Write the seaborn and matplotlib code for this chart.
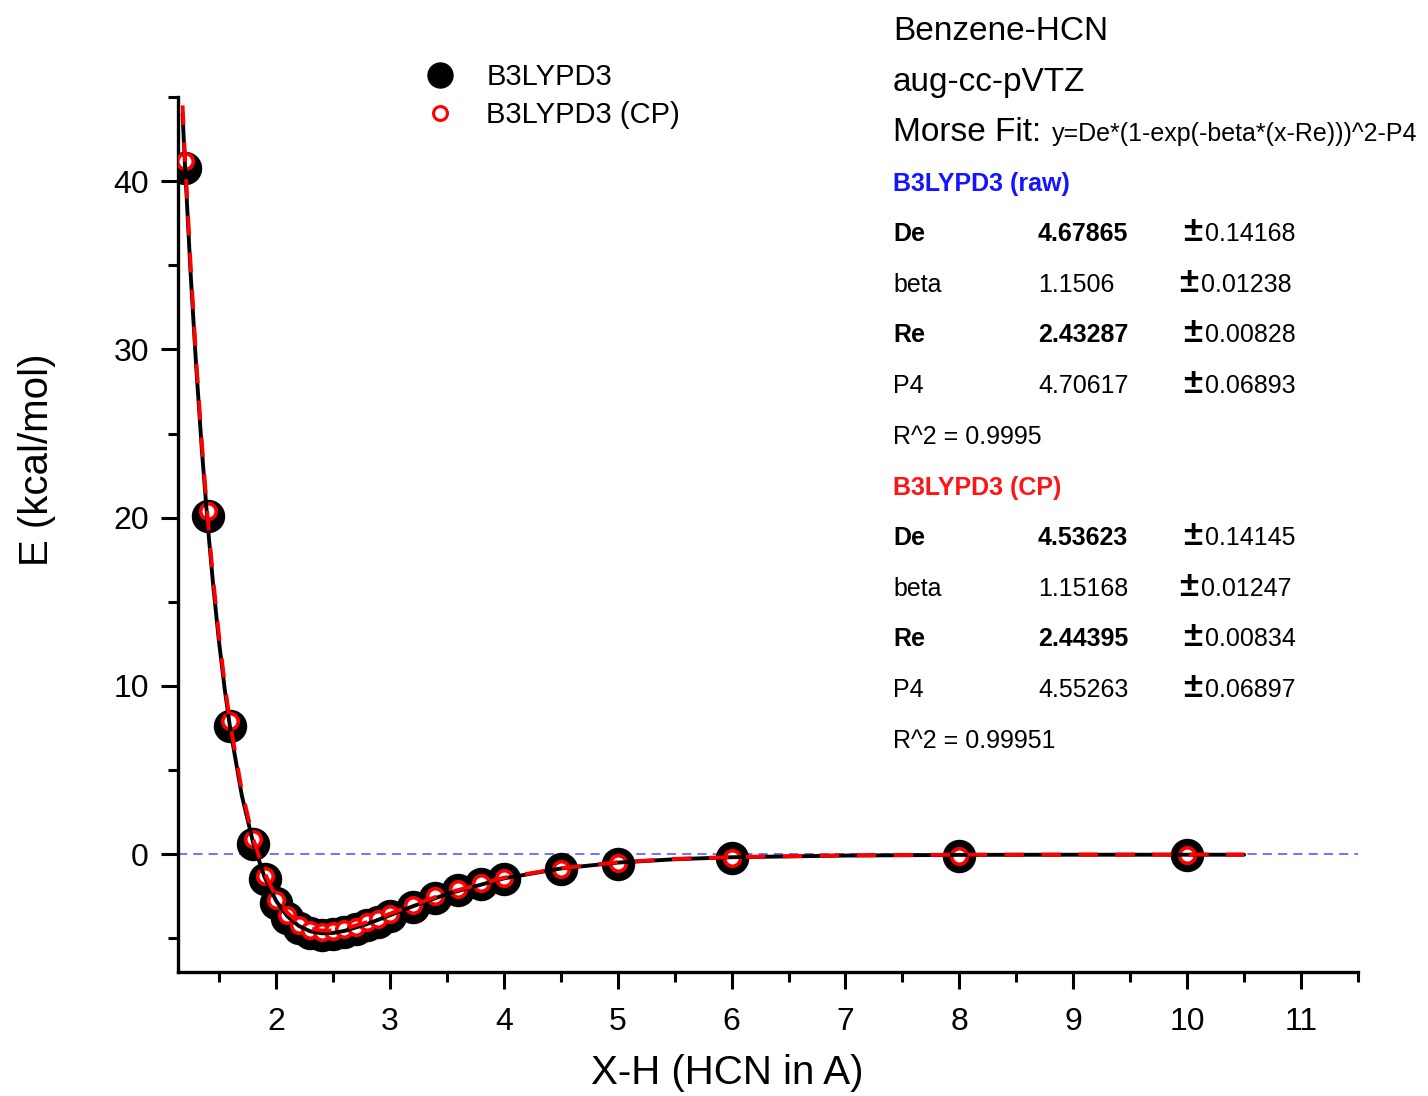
import matplotlib
matplotlib.use("Agg")
import matplotlib.pyplot as plt
import seaborn as sns
import numpy as np
import pandas as pd
from matplotlib.ticker import MultipleLocator
from matplotlib.lines import Line2D

# ---------------- data ----------------
x_pts = [1.2, 1.4, 1.6, 1.8, 1.9, 2.0, 2.1, 2.2, 2.3, 2.4, 2.5, 2.6, 2.7, 2.8, 2.9,
         3.0, 3.2, 3.4, 3.6, 3.8, 4.0, 4.5, 5.0, 6.0, 8.0, 10.0]
e_raw = [40.8, 20.1, 7.6, 0.6, -1.5, -2.9, -3.8, -4.4, -4.7, -4.8, -4.75, -4.6, -4.45, -4.2, -4.0,
         -3.7, -3.15, -2.6, -2.15, -1.8, -1.45, -0.9, -0.6, -0.25, -0.1, -0.05]
e_cp = [41.2, 20.4, 7.9, 0.9, -1.3, -2.7, -3.6, -4.2, -4.5, -4.6, -4.55, -4.45, -4.3, -4.05, -3.85,
        -3.55, -3.0, -2.5, -2.05, -1.7, -1.4, -0.85, -0.55, -0.22, -0.08, -0.04]

# fitted Morse curves
x_fit = [1.18, 1.2, 1.25, 1.3, 1.35, 1.4, 1.45, 1.5, 1.55, 1.6, 1.7, 1.8, 1.9, 2.0, 2.1, 2.2,
         2.3, 2.4, 2.5, 2.6, 2.8, 3.0, 3.2, 3.5, 4.0, 4.5, 5.0, 5.5, 6.0, 7.0, 8.0, 9.0, 10.0, 10.5]
fit_raw = [44.0, 41.15, 34.6, 28.95, 23.98, 19.66, 15.9, 12.63, 9.82, 7.39, 3.50, 0.67, -1.36, -2.76,
           -3.69, -4.26, -4.58, -4.70, -4.68, -4.56, -4.15, -3.63, -3.10, -2.37, -1.44, -0.85, -0.50,
           -0.30, -0.18, -0.08, -0.04, -0.03, -0.03, -0.03]
fit_cp = [44.5, 41.6, 35.1, 29.35, 24.37, 20.03, 16.26, 12.98, 10.14, 7.70, 3.79, 0.93, -1.11, -2.53,
          -3.48, -4.07, -4.41, -4.54, -4.53, -4.43, -4.04, -3.54, -3.02, -2.31, -1.40, -0.83, -0.48,
          -0.28, -0.17, -0.07, -0.03, -0.02, -0.02, -0.02]

x_ticks = [2, 3, 4, 5, 6, 7, 8, 9, 10, 11]
y_ticks = [0, 10, 20, 30, 40]

header_lines = ["Benzene-HCN", "aug-cc-pVTZ"]
fit_label = "Morse Fit:"
fit_formula = "y=De*(1-exp(-beta*(x-Re)))^2-P4"
raw_title = "B3LYPD3 (raw)"
cp_title = "B3LYPD3 (CP)"
param_names = ["De", "beta", "Re", "P4"]
raw_vals = ["4.67865", "1.1506", "2.43287", "4.70617"]
raw_errs = ["0.14168", "0.01238", "0.00828", "0.06893"]
raw_r2 = "R^2 = 0.9995"
cp_vals = ["4.53623", "1.15168", "2.44395", "4.55263"]
cp_errs = ["0.14145", "0.01247", "0.00834", "0.06897"]
cp_r2 = "R^2 = 0.99951"

# ---------------- style ----------------
sns.set_style("ticks")
plt.rcParams["font.family"] = ["Liberation Sans", "DejaVu Sans"]
plt.rcParams["text.color"] = "black"
plt.rcParams["axes.labelcolor"] = "black"
plt.rcParams["xtick.color"] = "black"
plt.rcParams["ytick.color"] = "black"

W, H = 1428, 1096
fig = plt.figure(figsize=(W / 100, H / 100), dpi=100)
ax = fig.add_axes([178 / W, 1 - 972 / H, (1358 - 178) / W, (972 - 97) / H])

df_pts = pd.DataFrame({"x": x_pts, "raw": e_raw, "cp": e_cp})
df_fit = pd.DataFrame({"x": x_fit, "raw": fit_raw, "cp": fit_cp})

ax.axhline(0, color="#4a4aff", lw=1.1, ls=(0, (6, 4)), zorder=1)

sns.scatterplot(data=df_pts, x="x", y="raw", s=580, color="black", edgecolor="black",
                linewidth=0, ax=ax, zorder=2, legend=False)
sns.scatterplot(data=df_pts, x="x", y="cp", s=125, color="white", edgecolor="red",
                linewidth=2.6, ax=ax, zorder=3, legend=False)
sns.lineplot(data=df_fit, x="x", y="raw", color="black", lw=2.8, ax=ax, zorder=4,
             sort=False, estimator=None)
sns.lineplot(data=df_fit, x="x", y="cp", color="red", lw=2.8, ax=ax, zorder=5,
             sort=False, estimator=None, dashes=False, linestyle=(0, (5, 4.5)))

ax.set_xlim(1.14, 11.5)
ax.set_ylim(-7, 45)
ax.set_xticks(x_ticks)
ax.set_yticks(y_ticks)
ax.xaxis.set_minor_locator(MultipleLocator(0.5))
ax.yaxis.set_minor_locator(MultipleLocator(5))
ax.tick_params(which="major", length=12, width=2.2, labelsize=23, pad=9, color="black",
               labelcolor="black")
ax.tick_params(which="minor", length=7, width=2.2, color="black")
ax.tick_params(axis="x", which="major", pad=13)
for s in ["top", "right"]:
    ax.spines[s].set_visible(False)
for s in ["left", "bottom"]:
    ax.spines[s].set_linewidth(2.4)
    ax.spines[s].set_color("black")

ax.set_xlabel("X-H (HCN in A)", fontsize=29, color="black")
ax.set_ylabel("E (kcal/mol)", fontsize=29, color="black")
ax.xaxis.set_label_coords((727 - 178) / 1180, (972 - 1073) / 875)
ax.yaxis.set_label_coords((37 - 178) / 1180, 1 - (460 - 97) / 875)
ax.xaxis.label.set_va("center")
ax.yaxis.label.set_va("center")
ax.grid(False)

# legend
handles = [
    Line2D([], [], ls="none", marker="o", markersize=18, markerfacecolor="black",
           markeredgecolor="black"),
    Line2D([], [], ls="none", marker="o", markersize=10, markerfacecolor="white",
           markeredgecolor="red", markeredgewidth=2.2),
]
fig.legend(handles, ["B3LYPD3", "B3LYPD3 (CP)"], loc="upper left",
           bbox_to_anchor=(425 / W, 1 - 63 / H), bbox_transform=fig.transFigure,
           frameon=False, fontsize=21, handlelength=1.0, handletextpad=1.1,
           labelspacing=0.35, borderpad=0, borderaxespad=0, labelcolor="black")

# annotation block
def ft(xp, yp, s, **kw):
    fig.text(xp / W, 1 - yp / H, s, va="baseline", ha="left", **kw)

ft(893, 40, header_lines[0], fontsize=24)
ft(893, 91, header_lines[1], fontsize=24)
ft(893, 141, fit_label, fontsize=24)
ft(1052, 141, fit_formula, fontsize=18)

def block(y0, title, color, vals, errs, r2):
    ft(893, y0, title, fontsize=18, fontweight="bold", color=color)
    for i, (n, v, e) in enumerate(zip(param_names, vals, errs)):
        yb = y0 + 50 + i * 50.7
        bold = "bold" if n in ("De", "Re") else "normal"
        ft(893, yb, n, fontsize=18, fontweight=bold)
        ft(1038, yb, v, fontsize=18, fontweight=bold)
        xpm = 1179 if n == "beta" else 1183
        ft(xpm, yb, "±", fontsize=25, fontweight="bold")
        ft(xpm + 22, yb, e, fontsize=18)
    ft(893, y0 + 50 + 4 * 50.7, r2, fontsize=18)

block(191, raw_title, "#1414ff", raw_vals, raw_errs, raw_r2)
block(495, cp_title, "#ff1414", cp_vals, cp_errs, cp_r2)

fig.savefig("out.png", dpi=100)
